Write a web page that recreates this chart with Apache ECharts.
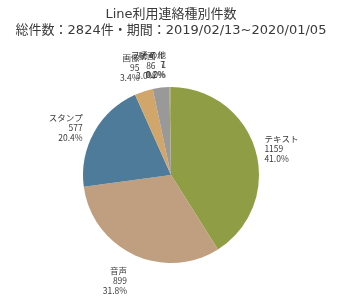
<!DOCTYPE html>
<html>
<head>
    <meta charset="utf-8">
    <title>Line利用連絡種別件数</title>
    <script src="https://cdn.jsdelivr.net/npm/echarts@6/dist/echarts.min.js"></script>
    <style>
        body { margin: 0; background: #fff; }
    </style>
</head>
<body>
<div id="pie-chart" style="width: 342px; height: 307px;"></div>
<script>
    // 種別と件数
    var categories = ['テキスト', '音声', 'スタンプ', '画像', '動画', 'ファイル', 'その他'];
    var counts = [1159, 899, 577, 95, 86, 7, 1];
    var colors = ['#8f9d45', '#bf9f7f', '#4e7b9a', '#d1a66a', '#999999', '#9aa64d', '#c3a07c'];
    // ラベルの微調整（Excel風に円の外側へ）
    var labelOffsets = [[0, -1], [0, 22], [-3, -2], [2, -20], [0, -18], [0, -18], [0, -18]];

    var total = counts.reduce(function (a, b) { return a + b; }, 0);

    var pieChart = echarts.init(document.getElementById('pie-chart'));

    var data = categories.map(function (name, i) {
        return {
            name: name,
            value: counts[i],
            itemStyle: { color: colors[i] },
            label: { offset: labelOffsets[i] }
        };
    });

    pieChart.setOption({
        animation: false,
        title: {
            text: 'Line利用連絡種別件数\n総件数：' + total + '件・期間：2019/02/13~2020/01/05',
            left: 'center',
            top: 2,
            textStyle: {
                fontFamily: "'DejaVu Sans', 'Noto Sans CJK JP'",
                fontWeight: 'normal',
                fontSize: 13,
                lineHeight: 16,
                color: '#3a3a3a'
            }
        },
        series: [{
            type: 'pie',
            center: [171, 175],
            radius: 88,
            startAngle: 90,
            clockwise: true,
            avoidLabelOverlap: false,
            data: data,
            label: {
                position: 'outside',
                fontFamily: 'Noto Sans CJK JP',
                fontSize: 8.5,
                lineHeight: 10,
                color: '#3a3a3a',
                formatter: function (p) {
                    return p.name + '\n' + p.value + '\n' + (p.value / total * 100).toFixed(1) + '%';
                }
            },
            labelLine: { show: false, length: 4, length2: 0 },
            labelLayout: { hideOverlap: false }
        }]
    });
</script>
</body>
</html>
